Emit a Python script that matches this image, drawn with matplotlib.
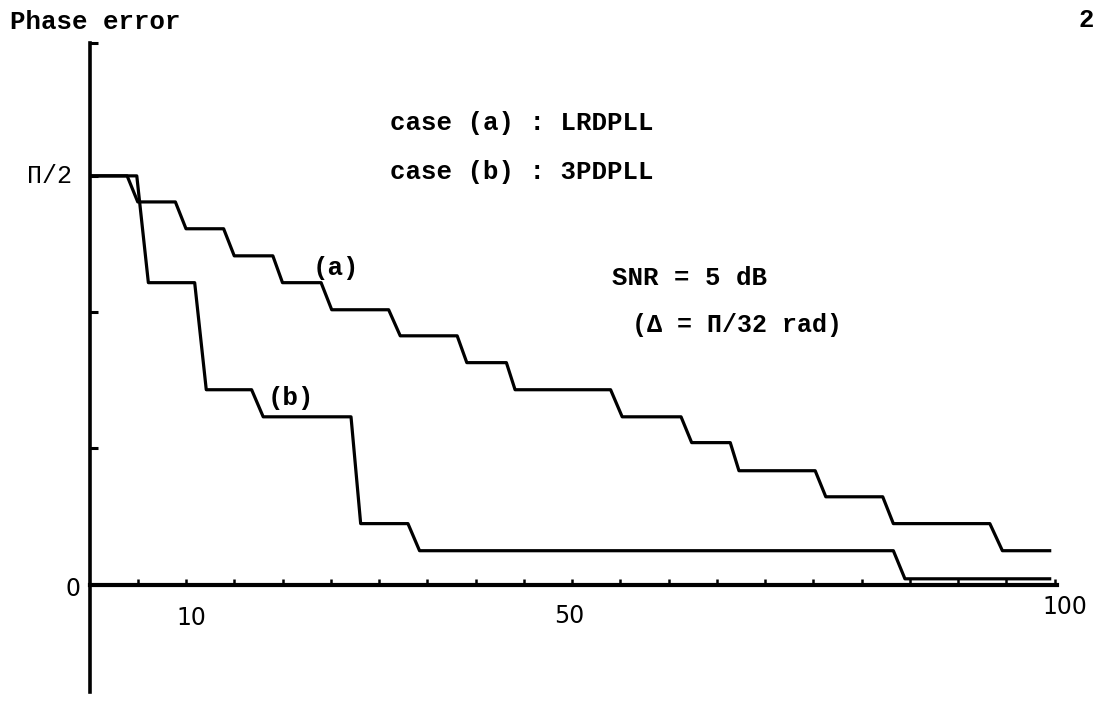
import matplotlib
matplotlib.use('Agg')
import matplotlib.pyplot as plt

# phase error in units of delta = pi/32 rad, x = iteration count
case_a_x = [0, 3.9, 5.0, 8.9, 10.0, 13.9, 15.0, 19.0, 20.0, 24.0, 25.1, 31.0, 32.2,
            38.1, 39.1, 43.2, 44.1, 54.0, 55.2, 61.3, 62.4, 66.4, 67.3, 75.2, 76.3,
            82.2, 83.3, 93.3, 94.6, 99.5]
case_a_y = [16.0, 16.0, 14.98, 14.98, 13.93, 13.93, 12.87, 12.87, 11.82, 11.82, 10.76,
            10.76, 9.74, 9.74, 8.69, 8.69, 7.63, 7.63, 6.57, 6.57, 5.56, 5.56, 4.46,
            4.46, 3.44, 3.44, 2.39, 2.39, 1.33, 1.33]

case_b_x = [0, 4.9, 6.1, 10.9, 12.1, 16.8, 18.0, 27.1, 28.1, 33.0, 34.2, 83.3, 84.5, 99.5]
case_b_y = [16.0, 16.0, 11.82, 11.82, 7.63, 7.63, 6.57, 6.57, 2.39, 2.39, 1.33, 1.33,
            0.23, 0.23]

x_ticks = list(range(5, 101, 5))
y_ticks = [16 / 3, 32 / 3, 16.0, 21.2]

mono = ['Liberation Mono', 'DejaVu Sans Mono']

fig = plt.figure(figsize=(10.94, 7.03), dpi=100)
ax = fig.add_axes([89.5 / 1094, 11 / 703, 967.9 / 1094, 649 / 703])
ax.set_xlim(0, 100.3)
ax.set_ylim(-4.2, 21.2)

ax.plot(case_a_x, case_a_y, color='black', lw=2.3, solid_joinstyle='round')
ax.plot(case_b_x, case_b_y, color='black', lw=2.3, solid_joinstyle='round')

# axes like the hand drawn figure
ax.spines['top'].set_visible(False)
ax.spines['right'].set_visible(False)
ax.spines['bottom'].set_position(('data', 0))
ax.spines['bottom'].set_linewidth(3.0)
ax.spines['left'].set_linewidth(2.6)

ax.set_xticks(x_ticks)
ax.set_xticklabels([])
ax.set_yticks(y_ticks)
ax.set_yticklabels([])
ax.tick_params(axis='x', direction='in', length=4, width=1.8)
ax.tick_params(axis='y', direction='in', length=6, width=2.2)

# tick labels
ax.text(-1.8, 16.0, 'Π/2', family=mono, fontsize=18, ha='right', va='center')
ax.text(-1.7, -0.16, '0', fontsize=17, ha='center', va='center')
ax.text(10.6, -1.29, '10', fontsize=17, ha='center', va='center')
ax.text(49.7, -1.21, '50', fontsize=17, ha='center', va='center')
ax.text(101.1, -0.86, '100', fontsize=17, ha='center', va='center', clip_on=False)

# annotations
kw = dict(family=mono, fontsize=18.5, fontweight='bold', va='center')
ax.text(31.1, 18.07, 'case (a) : LRDPLL', **kw)
ax.text(31.1, 16.16, 'case (b) : 3PDPLL', **kw)
ax.text(25.5, 12.4, '(a)', ha='center', **kw)
ax.text(20.9, 7.32, '(b)', ha='center', **kw)
ax.text(54.1, 12.01, 'SNR = 5 dB', **kw)
ax.text(56.2, 10.17, '(Δ = Π/32 rad)', family=mono, fontsize=18, fontweight='bold',
        va='center')

fig.text(10 / 1094, 1 - 22 / 703, 'Phase error', **kw)
fig.text(1078 / 1094, 1 - 20 / 703, '2', **kw)

fig.savefig('out.png', dpi=100)
